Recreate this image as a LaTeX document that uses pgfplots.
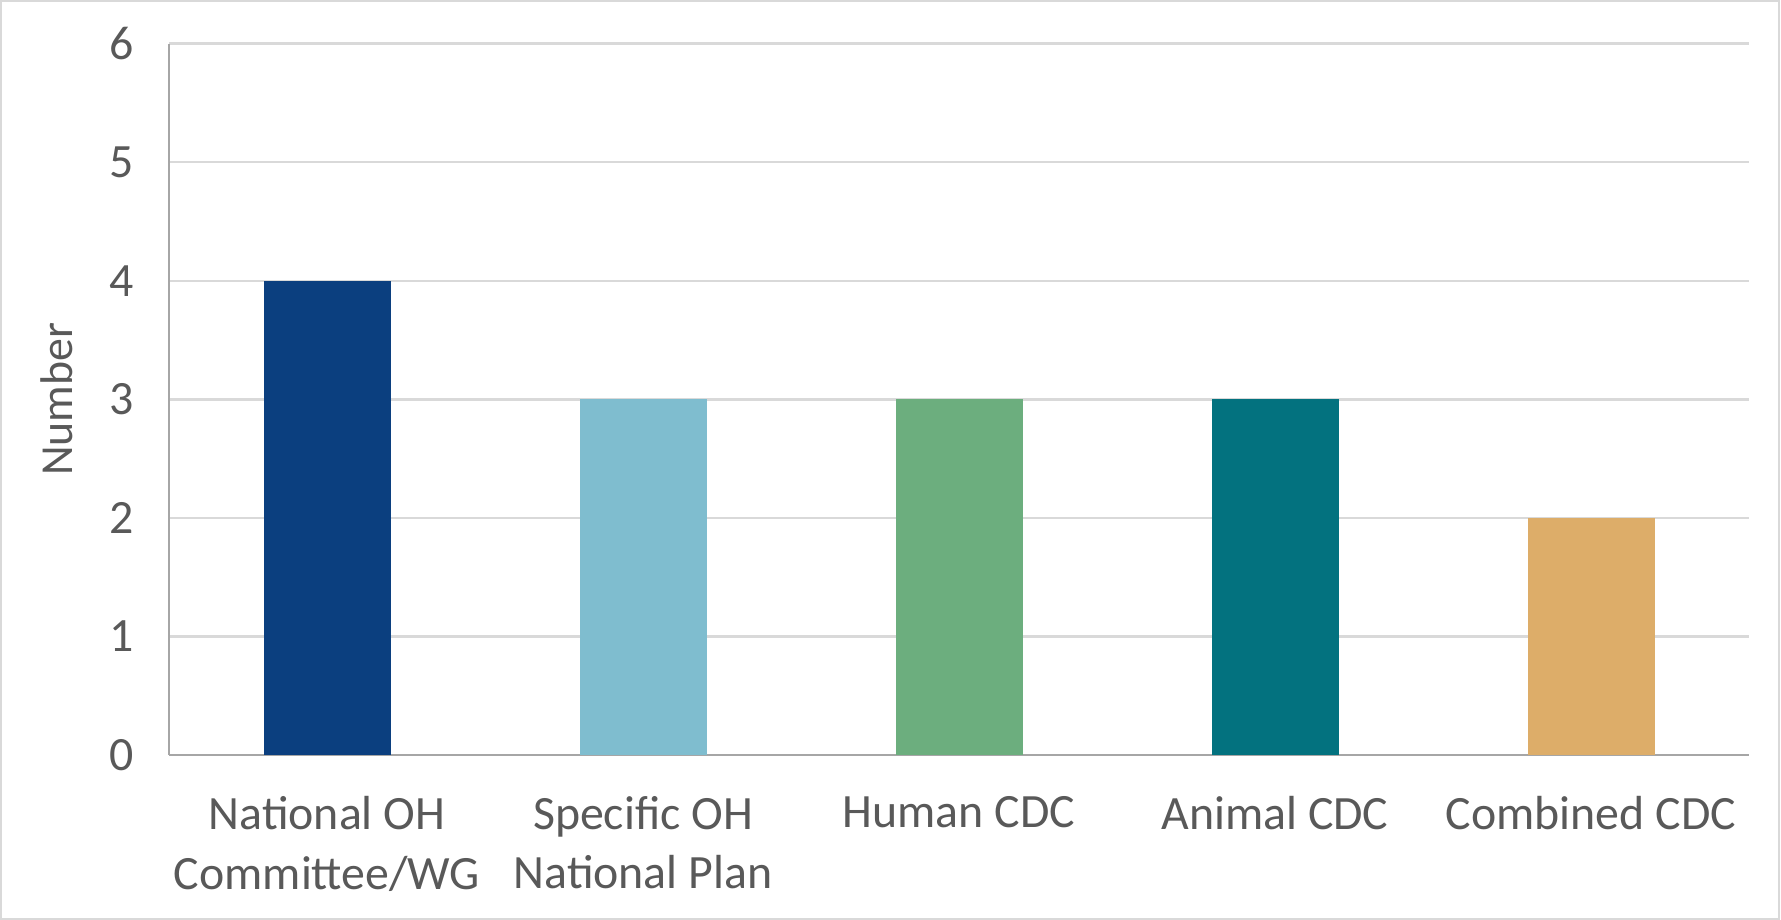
\documentclass[border=0pt]{standalone}
\usepackage{pgfplots}
\pgfplotsset{compat=1.18}
\usepackage{fontspec}
\setmainfont{Carlito}
\definecolor{txt}{HTML}{595959}
\definecolor{gridc}{HTML}{D9D9D9}
\definecolor{axc}{HTML}{A6A6A6}
\definecolor{c1}{HTML}{0B3F7F}
\definecolor{c2}{HTML}{7FBDCF}
\definecolor{c3}{HTML}{6CAE7E}
\definecolor{c4}{HTML}{03727F}
\definecolor{c5}{HTML}{DDAD69}
\begin{document}
\begin{tikzpicture}
\useasboundingbox (0,0) rectangle (890.5bp,460bp);
\draw[gridc, line width=1.2bp] (0.6bp,0.6bp) rectangle (889.4bp,459.4bp);
\begin{axis}[
  at={(84.5bp,82.5bp)}, anchor=south west,
  scale only axis, width=790bp, height=355.7bp,
  xmin=-0.5, xmax=4.5, ymin=0, ymax=6,
  ytick={0,1,2,3,4,5,6},
  xtick={0,1,2,3,4},
  xticklabels={{National OH\\Committee/WG},{Specific OH\\National Plan},{Human CDC},{Animal CDC},{Combined CDC}},
  xticklabel style={align=center, font=\fontsize{24}{30}\selectfont, text=txt, anchor=north, yshift=-17bp},
  yticklabel style={font=\fontsize{24}{29}\selectfont, text=txt, xshift=-14bp},
  /pgf/number format/assume math mode=true,
  major tick length=0pt,
  ymajorgrids, grid style={gridc, line width=1.2bp},
  axis x line*=bottom, axis y line*=left,
  x axis line style={axc, line width=1.2bp, -},
  y axis line style={axc, line width=1.2bp, -},
  ylabel={Number},
  ylabel style={font=\fontsize{23}{27}\selectfont, text=txt, at={(axis description cs:-0.0709,0.5)}, anchor=center},
  ybar, bar width=63.5bp, bar shift=0pt,
  clip=false,
]
\addplot[fill=c1, draw=none] coordinates {(0,4)};
\addplot[fill=c2, draw=none] coordinates {(1,3)};
\addplot[fill=c3, draw=none] coordinates {(2,3)};
\addplot[fill=c4, draw=none] coordinates {(3,3)};
\addplot[fill=c5, draw=none] coordinates {(4,2)};
\end{axis}
\end{tikzpicture}
\end{document}
